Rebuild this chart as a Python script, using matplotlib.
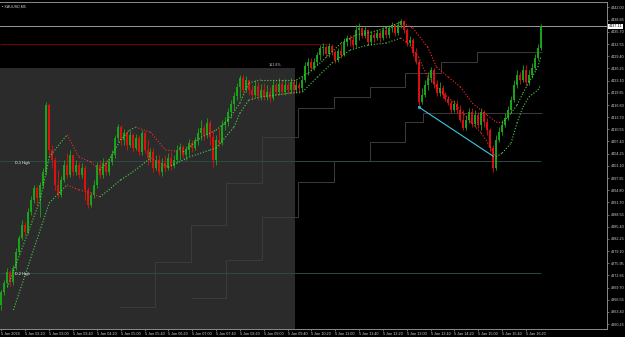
import numpy as np
import matplotlib.pyplot as plt
from matplotlib.patches import Rectangle

plt.rcParams['font.family'] = ['Liberation Sans', 'DejaVu Sans']

# XAUUSD M5, 5 Jan
first_open = 4365.2
close = [4368.5, 4370.8, 4373.7, 4371.1, 4374.7, 4378.8, 4382.5, 4385.8, 4384.0, 4389.2,
         4392.3, 4395.4, 4392.8, 4396.1, 4399.5, 4416.8, 4405.2, 4402.6, 4396.1, 4393.6,
         4397.4, 4401.3, 4398.7, 4403.9, 4399.5, 4401.3, 4398.7, 4400.5, 4394.8, 4391.0,
         4393.6, 4396.1, 4401.3, 4398.7, 4401.8, 4399.5, 4402.1, 4403.9, 4408.3, 4411.1,
         4407.8, 4409.6, 4406.5, 4409.1, 4405.7, 4408.3, 4404.7, 4409.6, 4405.2, 4403.1,
         4404.7, 4400.5, 4402.6, 4399.5, 4401.8, 4400.5, 4403.1, 4401.1, 4402.6, 4405.2,
         4406.0, 4403.9, 4405.2, 4407.0, 4405.7, 4407.8, 4409.6, 4410.9, 4409.1, 4412.1,
         4408.5, 4402.6, 4407.8, 4407.0, 4411.6, 4412.4, 4415.0, 4417.1, 4419.1, 4421.5,
         4423.8, 4420.7, 4423.3, 4420.7, 4419.4, 4421.7, 4419.1, 4420.7, 4418.9, 4420.2,
         4418.6, 4422.0, 4420.2, 4422.2, 4420.2, 4422.0, 4420.7, 4422.7, 4420.7, 4422.0,
         4421.2, 4423.3, 4426.9, 4427.9, 4426.3, 4427.9, 4429.7, 4431.5, 4431.8, 4430.0,
         4432.0, 4430.5, 4428.4, 4430.7, 4429.7, 4433.1, 4434.1, 4433.6, 4432.3, 4436.2,
         4436.7, 4434.6, 4436.2, 4433.1, 4434.9, 4434.1, 4435.4, 4434.1, 4436.2, 4434.9,
         4436.7, 4437.4, 4435.4, 4437.4, 4438.5, 4436.2, 4432.8, 4433.6, 4430.2, 4427.9,
         4417.6, 4419.4, 4422.0, 4423.8, 4425.8, 4422.2, 4419.9, 4421.2, 4419.4, 4418.4,
         4417.3, 4415.5, 4417.1, 4415.5, 4412.9, 4410.9, 4412.9, 4415.0, 4411.9, 4414.2,
         4411.6, 4415.0, 4412.4, 4410.3, 4405.7, 4400.5, 4407.8, 4409.8, 4411.6, 4413.5,
         4415.5, 4418.1, 4422.0, 4424.6, 4423.3, 4425.8, 4422.7, 4424.6, 4426.3, 4428.9,
         4431.5, 4437.11]
high = [4369.0, 4371.6, 4374.7, 4374.2, 4375.5, 4379.9, 4383.2, 4387.1, 4386.6, 4390.2,
        4393.3, 4396.1, 4395.9, 4396.9, 4400.5, 4417.6, 4417.3, 4406.5, 4403.4, 4400.0,
        4398.5, 4402.6, 4404.4, 4405.2, 4403.9, 4402.6, 4402.1, 4401.8, 4401.3, 4395.6,
        4394.3, 4397.4, 4402.1, 4402.6, 4403.1, 4402.6, 4403.1, 4405.2, 4409.0, 4411.9,
        4411.6, 4410.6, 4410.3, 4410.1, 4409.6, 4409.3, 4409.1, 4410.3, 4410.0, 4407.8,
        4405.7, 4405.7, 4403.9, 4403.9, 4403.1, 4403.9, 4404.4, 4404.7, 4403.9, 4406.5,
        4407.0, 4406.5, 4406.2, 4408.0, 4407.8, 4408.5, 4410.9, 4412.9, 4411.6, 4413.5,
        4412.9, 4410.3, 4409.1, 4410.9, 4412.9, 4413.7, 4416.0, 4418.1, 4420.2, 4422.5,
        4424.6, 4424.6, 4424.3, 4423.3, 4422.0, 4423.3, 4422.7, 4422.2, 4422.5, 4422.0,
        4421.4, 4423.3, 4422.7, 4423.8, 4423.3, 4423.5, 4422.7, 4423.8, 4423.3, 4423.3,
        4422.7, 4424.3, 4427.9, 4428.9, 4428.9, 4428.9, 4430.5, 4432.3, 4432.8, 4432.3,
        4432.8, 4432.5, 4431.0, 4431.5, 4432.5, 4434.1, 4434.9, 4434.9, 4434.9, 4437.4,
        4438.0, 4436.9, 4437.2, 4436.2, 4435.6, 4435.6, 4436.2, 4436.2, 4436.9, 4436.9,
        4437.4, 4438.2, 4437.7, 4438.5, 4439.0, 4438.7, 4436.7, 4434.6, 4434.1, 4431.5,
        4428.4, 4421.2, 4423.3, 4425.3, 4426.6, 4426.3, 4423.3, 4422.7, 4422.0, 4420.2,
        4419.1, 4418.1, 4418.1, 4418.1, 4416.8, 4415.5, 4414.2, 4416.0, 4416.0, 4415.5,
        4415.0, 4416.0, 4415.5, 4413.5, 4410.9, 4406.5, 4409.1, 4411.1, 4412.9, 4414.7,
        4416.5, 4419.1, 4423.3, 4425.8, 4425.3, 4427.1, 4427.1, 4425.8, 4427.6, 4430.0,
        4432.5, 4437.7]
low = [4363.9, 4367.7, 4369.8, 4370.1, 4370.3, 4374.2, 4378.1, 4381.9, 4383.0, 4383.5,
       4388.4, 4391.5, 4391.0, 4387.9, 4395.4, 4398.7, 4403.9, 4400.5, 4394.8, 4392.8,
       4393.0, 4396.9, 4397.9, 4398.2, 4398.5, 4398.7, 4397.9, 4397.9, 4392.3, 4390.2,
       4390.5, 4392.8, 4395.4, 4397.9, 4397.9, 4398.7, 4398.7, 4401.3, 4403.1, 4407.2,
       4406.5, 4406.5, 4405.2, 4406.0, 4404.7, 4405.2, 4403.9, 4403.9, 4404.4, 4401.3,
       4402.1, 4399.5, 4400.0, 4398.7, 4398.5, 4399.5, 4400.0, 4400.0, 4400.5, 4401.8,
       4402.6, 4403.1, 4402.6, 4403.9, 4404.7, 4405.2, 4406.5, 4407.8, 4407.8, 4408.3,
       4406.5, 4400.8, 4401.3, 4406.0, 4406.5, 4410.3, 4411.4, 4413.5, 4415.5, 4418.1,
       4418.6, 4419.9, 4420.2, 4419.4, 4418.1, 4418.9, 4418.1, 4418.1, 4418.1, 4418.1,
       4417.6, 4418.1, 4419.4, 4419.4, 4419.4, 4419.4, 4419.6, 4419.9, 4419.9, 4419.9,
       4419.9, 4420.4, 4422.7, 4424.6, 4425.6, 4425.8, 4427.1, 4428.4, 4429.7, 4429.2,
       4429.2, 4429.7, 4427.6, 4427.9, 4428.9, 4429.4, 4432.0, 4432.0, 4431.5, 4431.8,
       4433.6, 4434.1, 4434.1, 4432.3, 4432.3, 4433.1, 4433.6, 4433.1, 4433.6, 4434.1,
       4434.1, 4435.6, 4434.6, 4434.9, 4436.7, 4435.4, 4432.0, 4432.0, 4429.4, 4427.4,
       4416.5, 4417.1, 4418.9, 4420.7, 4422.7, 4421.2, 4419.1, 4419.1, 4418.6, 4417.8,
       4416.8, 4414.7, 4415.0, 4414.7, 4412.4, 4410.3, 4410.3, 4412.2, 4411.1, 4411.1,
       4410.9, 4410.3, 4411.1, 4409.1, 4404.7, 4399.5, 4400.0, 4407.2, 4409.1, 4411.1,
       4412.9, 4415.0, 4417.6, 4421.2, 4422.2, 4422.7, 4421.7, 4422.0, 4423.8, 4425.8,
       4428.4, 4431.0]

# two dotted moving-average style lines (bar index, price)
ma1_bars = [2, 13, 16, 22, 26, 30, 33, 36, 40, 43, 45, 50, 55, 61, 67, 72, 76, 80, 83, 87,
            94, 99, 103, 108, 114, 119, 124, 129, 134, 138, 143, 146, 150, 154, 158, 163,
            166, 168, 171, 173, 175, 177, 180, 181]
ma1_vals = [4369.8, 4392.3, 4403.4, 4409.1, 4403.4, 4402.1, 4400.0, 4402.6, 4407.8, 4410.3,
            4411.1, 4409.8, 4405.2, 4404.7, 4408.5, 4410.3, 4412.9, 4417.3, 4422.5, 4423.3,
            4423.3, 4423.3, 4425.1, 4428.4, 4432.8, 4434.9, 4435.6, 4436.7, 4438.2, 4436.7,
            4431.8, 4426.6, 4424.0, 4421.5, 4417.3, 4414.2, 4412.4, 4412.2, 4414.7, 4416.8,
            4419.9, 4422.7, 4426.6, 4429.2]
ma2_bars = [4, 16, 22, 26, 30, 33, 36, 40, 44, 50, 56, 63, 70, 72, 78, 80, 83, 87, 97, 101,
            106, 111, 117, 123, 129, 134, 137, 140, 143, 147, 152, 156, 161, 164, 166, 168,
            171, 173, 175, 177, 180, 181]
ma2_vals = [4363.9, 4391.5, 4396.2, 4394.9, 4394.1, 4393.1, 4394.9, 4397.5, 4399.5, 4403.1,
            4400.8, 4403.4, 4405.2, 4405.7, 4411.1, 4414.7, 4418.1, 4418.9, 4419.9, 4420.2,
            4424.0, 4427.7, 4431.0, 4432.3, 4432.8, 4434.1, 4432.3, 4429.2, 4424.0, 4420.7,
            4417.3, 4413.7, 4409.6, 4406.0, 4403.4, 4404.4, 4407.0, 4412.2, 4416.3, 4418.9,
            4420.7, 4422.0]

# hourly step levels
step1_edges = [39.5, 51.5, 63.5, 75.5, 87.5, 99.5, 111.5, 123.5, 135.5, 147.5, 159.5, 181.5]
step1_levels = [4364.7, 4376.3, 4385.8, 4396.7, 4408.5, 4416.0, 4418.9, 4421.5, 4425.1,
                4427.9, 4430.5]
step2_edges = [63.5, 75.5, 87.5, 99.5, 111.5, 123.5, 135.5, 141.5, 181.5]
step2_levels = [4367.0, 4376.8, 4387.9, 4396.9, 4402.4, 4407.3, 4412.4, 4414.7]

d1_high = 4402.3
d2_high = 4373.5
red_level = 4432.5
bid = 4437.11
box_right = 98.5
box_top = 4426.4
trend_bars = [140, 165]
trend_vals = [4416.3, 4403.6]

price_ticks = [4360.25, 4363.40, 4366.55, 4369.70, 4372.85, 4375.95, 4379.10, 4382.25,
               4385.40, 4388.55, 4391.70, 4394.80, 4397.95, 4401.10, 4404.25, 4407.40,
               4410.55, 4413.70, 4416.80, 4419.95, 4423.10, 4426.25, 4429.40, 4432.55,
               4435.70, 4438.85, 4442.00]
time_labels = ['5 Jan 2026', '5 Jan 02:20', '5 Jan 03:00', '5 Jan 03:40', '5 Jan 04:20',
               '5 Jan 05:00', '5 Jan 05:40', '5 Jan 06:20', '5 Jan 07:00', '5 Jan 07:40',
               '5 Jan 08:20', '5 Jan 09:00', '5 Jan 09:40', '5 Jan 10:20', '5 Jan 11:00',
               '5 Jan 11:40', '5 Jan 12:20', '5 Jan 13:00', '5 Jan 13:40', '5 Jan 14:20',
               '5 Jan 15:00', '5 Jan 15:40', '5 Jan 16:20']

GREEN = '#1aa51a'
RED = '#e01010'
GRID = '#3c3c3c'
FS = 2.7

fig = plt.figure(figsize=(6.25, 3.37), dpi=100, facecolor='black')
ax = fig.add_axes([0, 8 / 337, 607 / 625, 327 / 337])
ax.set_facecolor('black')
ax.set_xlim(-0.5, 203.2)
ax.set_ylim(4359.0, 4443.4)

# shaded box
ax.add_patch(Rectangle((-0.5, 4350), box_right + 0.5, box_top - 4350,
                       facecolor='#2b2b2b', edgecolor='none', zorder=0))
ax.text(89.5, box_top + 0.3, '161.8%', color='#c8c8c8', fontsize=FS, va='bottom', zorder=6)

# levels
ax.stairs(step1_levels, step1_edges, baseline=None, color=GRID, lw=0.7, zorder=1)
ax.stairs(step2_levels, step2_edges, baseline=None, color=GRID, lw=0.7, zorder=1)
ax.hlines(d1_high, -0.5, 181, color='#2f4848', lw=0.7, zorder=1)
ax.hlines(d2_high, -0.5, 181, color='#2f4848', lw=0.7, zorder=1)
ax.text(4.5, d1_high - 0.4, 'D-1 High', color='white', fontsize=FS, va='center', zorder=6)
ax.text(4.5, d2_high - 0.4, 'D-2 High', color='white', fontsize=FS, va='center', zorder=6)
ax.hlines(red_level, -0.5, 110, color='#7a0000', lw=0.7, zorder=1)
ax.axhline(bid, color='#9a9a9a', lw=0.7, zorder=1)

# candles
idx = np.arange(len(close))
c = np.array(close)
o = np.concatenate([[first_open], c[:-1]])
h = np.maximum(np.array(high), np.maximum(o, c))
l = np.minimum(np.array(low), np.minimum(o, c))
cols = [GREEN if cc >= oo else RED for oo, cc in zip(o, c)]
ax.vlines(idx, l, h, colors=cols, lw=0.6, zorder=3)
ax.vlines(idx, o, c, colors=cols, lw=1.4, zorder=3)

# dotted lines, green while rising, red while falling
for bars, vals in [(ma1_bars, ma1_vals), (ma2_bars, ma2_vals)]:
    for i in range(len(bars) - 1):
        col = '#4cd04c' if vals[i + 1] >= vals[i] else '#ff2a2a'
        ax.plot(bars[i:i + 2], vals[i:i + 2], color=col, lw=0.8,
                linestyle=(0, (1, 1.6)), zorder=4)

# trend line
ax.plot(trend_bars, trend_vals, color='#3cc8e6', lw=0.8, zorder=5)
ax.plot(trend_bars[0], trend_vals[0], 's', ms=1.5, mfc='none', mec='#3cc8e6', mew=0.5, zorder=5)

# axes
ax.spines['left'].set_visible(False)
for s in ['right', 'bottom', 'top']:
    ax.spines[s].set_color('#8a8a8a')
    ax.spines[s].set_linewidth(0.7)
ax.yaxis.tick_right()
ax.set_yticks(price_ticks)
ax.set_yticklabels(['%.2f' % v for v in price_ticks])
ax.set_xticks(np.arange(0, 8 * len(time_labels), 8))
ax.set_xticklabels(time_labels)
for t in ax.get_xticklabels():
    t.set_ha('left')
ax.tick_params(colors='#8a8a8a', labelcolor='#d0d0d0', labelsize=FS, length=1.5,
               width=0.5, pad=1)

ax.annotate('%.2f' % bid, xy=(1.003, bid), xycoords=('axes fraction', 'data'),
            fontsize=FS, color='black', va='center', ha='left',
            bbox=dict(boxstyle='square,pad=0.15', fc='white', ec='none'))

fig.text(0.004, 0.982, '\u25aa XAUUSD,M5', color='#d0d0d0', fontsize=FS, va='center')

fig.savefig('out.png', dpi=100, facecolor='black')
